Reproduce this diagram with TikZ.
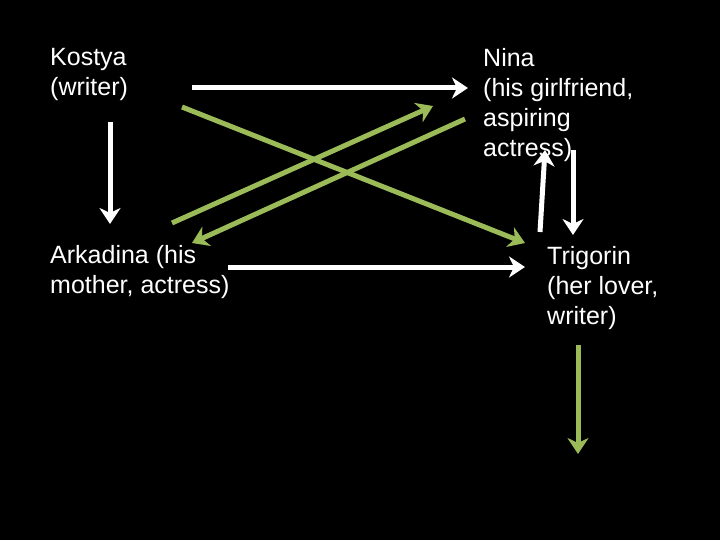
\documentclass[tikz,border=0pt]{standalone}
\usepackage{fontspec}
\setmainfont{Liberation Sans}
\usetikzlibrary{arrows.meta}
\definecolor{olivegreen}{RGB}{155,187,89}
\tikzset{
  who/.style={
    anchor=north west,
    align=left,
    inner sep=0pt,
    text=white,
    font=\fontsize{25}{30}\selectfont,
  },
  tie/.style={
    -{Stealth[length=16pt,width=21pt,inset=5pt]},
    line width=5pt,
    draw=white,
  },
  love tie/.style={tie, draw=olivegreen},
}
\begin{document}
\begin{tikzpicture}[x=1pt,y=-1pt]
  \fill[black] (0,0) rectangle (720,540);
  \useasboundingbox (0,0) rectangle (720,540);

  \node[who] (kostya) at (50,48) {Kostya\\(writer)};
  \node[who] (nina) at (483,48) {Nina\\(his girlfriend,\\aspiring\\actress)};
  \node[who] (arkadina) at (50,245) {Arkadina (his\\mother, actress)};
  \node[who] (trigorin) at (547,246) {Trigorin\\(her lover,\\writer)};

  % end points of the arrows
  \coordinate (k1) at (192,88);
  \coordinate (n1) at (468,88);
  \coordinate (k2) at (110,122);
  \coordinate (a2) at (110,224);
  \coordinate (a3) at (228,267);
  \coordinate (t3) at (525,267);
  \coordinate (t4) at (540,232);
  \coordinate (n4) at (545,150);
  \coordinate (n5) at (573,150);
  \coordinate (t5) at (573,235);
  \coordinate (k6) at (182,107);
  \coordinate (t6) at (525,243);
  \coordinate (a7) at (172,223);
  \coordinate (n7) at (433,106);
  \coordinate (n8) at (465,119);
  \coordinate (a8) at (192,243);
  \coordinate (t9) at (578,345);
  \coordinate (end) at (578,454);

  \draw[tie] (k1) -- (n1);
  \draw[tie] (k2) -- (a2);
  \draw[tie] (a3) -- (t3);
  \draw[tie] (t4) -- (n4);
  \draw[tie] (n5) -- (t5);
  \draw[love tie] (k6) -- (t6);
  \draw[love tie] (a7) -- (n7);
  \draw[love tie] (n8) -- (a8);
  \draw[love tie] (t9) -- (end);
\end{tikzpicture}
\end{document}
